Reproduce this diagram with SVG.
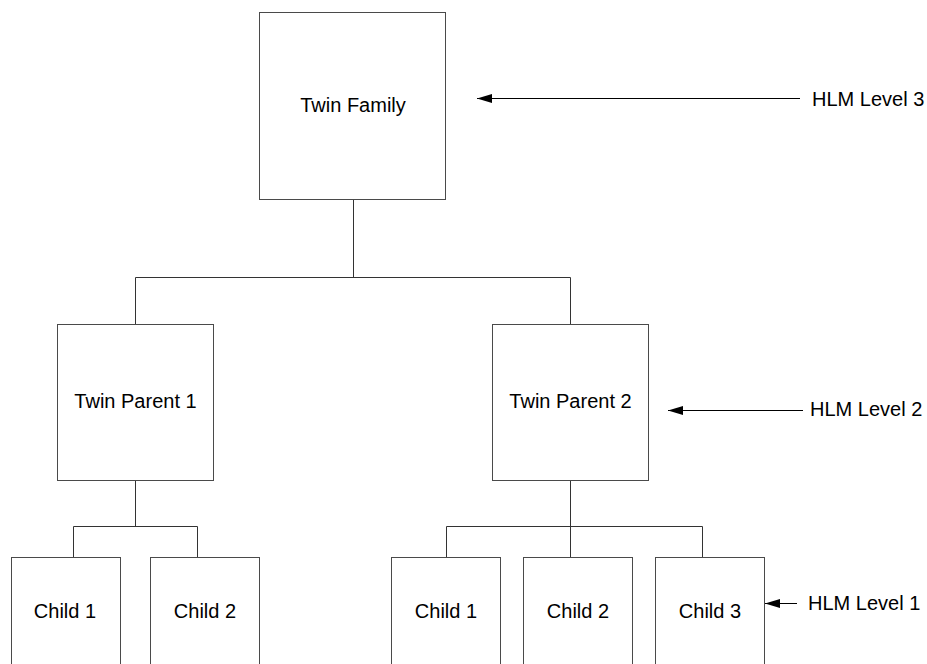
<svg xmlns="http://www.w3.org/2000/svg" width="927" height="664" viewBox="0 0 927 664">
<defs>
<style>
.box{fill:#fff;stroke:#4a4a4a;stroke-width:1}
.ln{fill:none;stroke:#333;stroke-width:1}
.ar{fill:none;stroke:#000;stroke-width:1}
.t{font-family:"Liberation Sans",Arial,sans-serif;font-size:20px;fill:#000}
.c{text-anchor:middle}
</style>
<marker id="ah" markerWidth="15" markerHeight="9" refX="15" refY="4.5" orient="auto" markerUnits="userSpaceOnUse">
<path d="M0,0 L15,4.5 L0,9 Z" fill="#000"/>
</marker>
</defs>
<rect width="927" height="664" fill="#fff"/>
<g id="connectors">
<path class="ln" d="M353.5,199.5 V277.5 M135.5,277.5 H570.5 M135.5,277.5 V324.5 M570.5,277.5 V324.5"/>
<path class="ln" d="M135.5,480.5 V526.5 M73.5,526.5 H197.5 M73.5,526.5 V557.5 M197.5,526.5 V557.5"/>
<path class="ln" d="M570.5,480.5 V557.5 M446.5,526.5 H702.5 M446.5,526.5 V557.5 M702.5,526.5 V557.5"/>
<line class="ar" x1="800" y1="98.5" x2="477" y2="98.5" marker-end="url(#ah)"/>
<line class="ar" x1="803" y1="410.5" x2="668" y2="410.5" marker-end="url(#ah)"/>
<line class="ar" x1="797" y1="603.5" x2="765" y2="603.5" marker-end="url(#ah)"/>
</g>
<g id="twin-family"><rect class="box" x="259.5" y="12.5" width="186" height="187"/><text class="t c" x="353" y="112">Twin Family</text></g>
<g id="twin-parent-1"><rect class="box" x="57.5" y="324.5" width="156" height="156"/><text class="t c" x="135.5" y="408">Twin Parent 1</text></g>
<g id="twin-parent-2"><rect class="box" x="492.5" y="324.5" width="156" height="156"/><text class="t c" x="570.5" y="408">Twin Parent 2</text></g>
<g id="p1-child-1"><rect class="box" x="11.5" y="557.5" width="109" height="140"/><text class="t c" x="65" y="618">Child 1</text></g>
<g id="p1-child-2"><rect class="box" x="150.5" y="557.5" width="109" height="140"/><text class="t c" x="205" y="618">Child 2</text></g>
<g id="p2-child-1"><rect class="box" x="391.5" y="557.5" width="109" height="140"/><text class="t c" x="446" y="618">Child 1</text></g>
<g id="p2-child-2"><rect class="box" x="523.5" y="557.5" width="109" height="140"/><text class="t c" x="578" y="618">Child 2</text></g>
<g id="p2-child-3"><rect class="box" x="655.5" y="557.5" width="109" height="140"/><text class="t c" x="710" y="618">Child 3</text></g>
<g id="label-level-3"><text class="t" x="812" y="106">HLM Level 3</text></g>
<g id="label-level-2"><text class="t" x="810" y="416">HLM Level 2</text></g>
<g id="label-level-1"><text class="t" x="808" y="610">HLM Level 1</text></g>
</svg>
